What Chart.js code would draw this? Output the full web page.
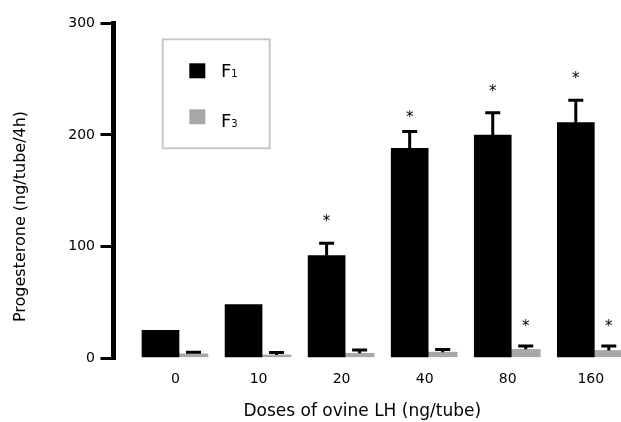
<!DOCTYPE html>
<html><head><meta charset="utf-8">
<script src="https://cdn.jsdelivr.net/npm/chart.js@4.4.1/dist/chart.umd.min.js"></script>
<style>html,body{margin:0;padding:0;background:#fff;}canvas{display:block;}</style>
</head><body>
<canvas id="c" width="621" height="422"></canvas>
<script>
// ---- data ----
const doses = ['0', '10', '20', '40', '80', '160'];
const f1Values = [25, 48, 92, 188, 200, 211];
const f1Errors = [0, 0, 11, 15, 20, 20];
const f3Values = [4, 3, 4.5, 5.5, 8, 7];
const f3Errors = [1.5, 2.2, 3, 2.3, 3, 4];
const f1Stars = [null, null, 124, 217, 240, 252];
const f3Stars = [null, null, null, null, 30, 30];
const yTickValues = [0, 100, 200, 300];
const seriesLabels = ['F1', 'F3'];
const seriesColors = ['#000000', '#a8a8a8'];
const xTitle = 'Doses of ovine LH (ng/tube)';
const yTitle = 'Progesterone (ng/tube/4h)';

const FONT = "'DejaVu Sans', sans-serif";

const toPoints = arr => arr.map((v, i) => ({ x: i, y: v }));

const whiteBg = {
  id: 'whiteBg',
  beforeDraw(chart) {
    const ctx = chart.ctx;
    ctx.save(); ctx.fillStyle = '#fff'; ctx.fillRect(0, 0, chart.width, chart.height); ctx.restore();
  }
};

const errorBars = {
  id: 'errorBars',
  afterDatasetsDraw(chart) {
    const ctx = chart.ctx, y = chart.scales.y;
    chart.data.datasets.forEach((ds, di) => {
      const meta = chart.getDatasetMeta(di);
      meta.data.forEach((bar, i) => {
        const e = ds.errors[i];
        const cx = bar.x;
        if (e) {
          const top = y.getPixelForValue(ds.values[i] + e);
          ctx.save();
          ctx.strokeStyle = '#000'; ctx.lineWidth = 3; ctx.lineCap = 'butt';
          ctx.beginPath();
          ctx.moveTo(cx, bar.y); ctx.lineTo(cx, top);
          ctx.moveTo(cx - 7.5, top); ctx.lineTo(cx + 7.5, top);
          ctx.stroke();
          ctx.restore();
        }
        const s = ds.stars[i];
        if (s !== null && s !== undefined) {
          ctx.save();
          ctx.fillStyle = '#000';
          ctx.font = '15px ' + FONT;
          ctx.textAlign = 'center'; ctx.textBaseline = 'alphabetic';
          ctx.fillText('*', cx, y.getPixelForValue(s) + 6);
          ctx.restore();
        }
      });
    });
  }
};

const boxLegend = {
  id: 'boxLegend',
  afterDraw(chart) {
    const ctx = chart.ctx;
    ctx.save();
    ctx.strokeStyle = '#c8c8c8'; ctx.lineWidth = 2;
    ctx.strokeRect(162.7, 39.3, 107, 109);
    chart.data.datasets.forEach((ds, i) => {
      const top = 63.3 + i * 46;
      ctx.fillStyle = ds.backgroundColor;
      ctx.fillRect(189.3, top, 16, 15);
      ctx.fillStyle = '#000';
      ctx.textAlign = 'left'; ctx.textBaseline = 'alphabetic';
      ctx.font = '18px ' + FONT;
      const main = ds.label.slice(0, 1), sub = ds.label.slice(1);
      const base = 77 + i * 50;
      ctx.fillText(main, 221, base);
      const w = ctx.measureText(main).width;
      ctx.font = '10px ' + FONT;
      ctx.fillText(sub, 221 + w, base);
    });
    // y-axis title
    ctx.font = '16px ' + FONT;
    ctx.fillStyle = '#000';
    ctx.textAlign = 'center'; ctx.textBaseline = 'middle';
    ctx.translate(21, 216.5);
    ctx.rotate(-Math.PI / 2);
    ctx.fillText(yTitle, 0, 0);
    ctx.restore();
  }
};

new Chart(document.getElementById('c'), {
  type: 'bar',
  data: {
    datasets: [
      { label: seriesLabels[0], data: toPoints(f1Values), values: f1Values, errors: f1Errors, stars: f1Stars,
        backgroundColor: seriesColors[0], barThickness: 37, borderWidth: 0, clip: false },
      { label: seriesLabels[1], data: toPoints(f3Values), values: f3Values, errors: f3Errors, stars: f3Stars,
        backgroundColor: seriesColors[1], barThickness: 29, borderWidth: 0, clip: false }
    ]
  },
  options: {
    responsive: false,
    animation: false,
    layout: { padding: { top: 23.3, right: 10, bottom: 0, left: 0 } },
    plugins: { legend: { display: false }, tooltip: { enabled: false } },
    scales: {
      x: {
        type: 'linear',
        offset: false,
        min: -0.7886,
        max: 5.201,
        afterBuildTicks: s => { s.ticks = doses.map((_, i) => ({ value: i })); },
        afterFit: s => { s.height = 63.7; },
        ticks: {
          callback: v => doses[v],
          font: { family: FONT, size: 14 },
          color: '#000',
          padding: 12.5,
          labelOffset: -3.5,
          maxRotation: 0,
          autoSkip: false
        },
        grid: { display: false, drawTicks: false, offset: false },
        border: { display: false },
        title: {
          display: true, text: xTitle, color: '#000',
          font: { family: FONT, size: 17 },
          padding: { top: 4, bottom: 0 }
        }
      },
      y: {
        min: 0, max: 300,
        afterBuildTicks: s => { s.ticks = yTickValues.map(v => ({ value: v })); },
        afterFit: s => { s.width = 113.5; },
        ticks: {
          font: { family: FONT, size: 14 },
          color: '#000',
          padding: 5.5
        },
        grid: {
          display: true, drawOnChartArea: false, drawTicks: true,
          tickLength: 13, tickWidth: 3, tickColor: '#000', lineWidth: 3, color: '#000'
        },
        border: { display: true, color: '#000', width: 5 }
      }
    }
  },
  plugins: [whiteBg, errorBars, boxLegend]
});
</script>
</body></html>
